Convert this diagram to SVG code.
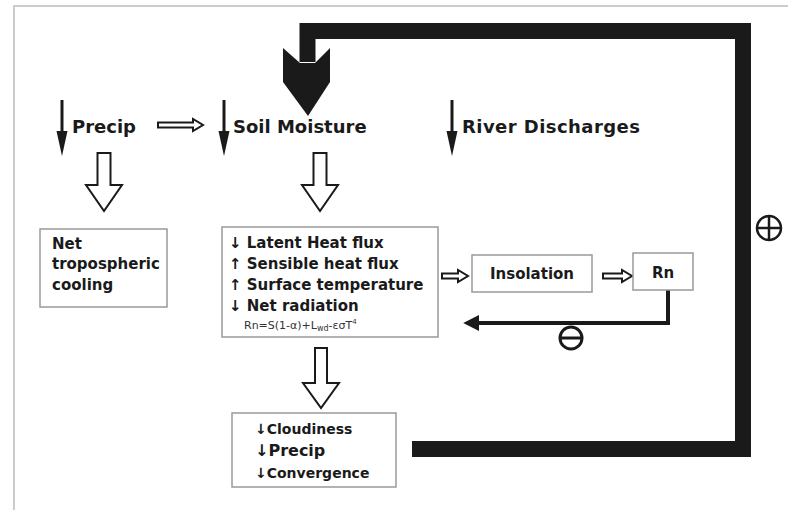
<svg xmlns="http://www.w3.org/2000/svg" width="788" height="510" viewBox="0 0 788 510">
<style>
.t{font-family:"DejaVu Sans",Verdana,sans-serif;font-weight:bold;fill:#1a1a1a}
.box{fill:#fff;stroke:#999;stroke-width:1.5}
.hollow{fill:#fff;stroke:#1a1a1a;stroke-width:2;stroke-linejoin:miter}
.blk{fill:#1a1a1a}
</style>
<defs>
<marker id="ah" viewBox="0 0 10 10" refX="2" refY="5" markerWidth="4" markerHeight="4" orient="auto">
<path d="M0,0 L10,5 L0,10 Z" fill="#1a1a1a"/>
</marker>
</defs>
<rect width="788" height="510" fill="#fff"/>
<g id="frame" stroke="#ccc" stroke-width="2" fill="none">
<path d="M14,510 V6 H788"/>
</g>
<g id="connectors">
<path d="M412,449 H743 V31 H307.5 V62" fill="none" stroke="#1a1a1a" stroke-width="16" stroke-linejoin="miter"/>
<polygon class="blk" points="283,48 300,63 315,63 330,48 330,82 308,116 283,82"/>
<g>
<rect class="blk" x="60.5" y="100" width="3" height="34"/>
<polygon class="blk" points="56.5,131 67.5,131 62,156"/>
<rect class="blk" x="222.5" y="100" width="3" height="34"/>
<polygon class="blk" points="218.5,131 229.5,131 224,156"/>
<rect class="blk" x="450.5" y="100" width="3" height="34"/>
<polygon class="blk" points="446.5,131 457.5,131 452,156"/>
</g>
<path class="hollow" d="M97.5,153 H110.5 V185 H122 L104,211 L86,185 H97.5 Z"/>
<path class="hollow" d="M313.5,153 H326.5 V185 H338 L320,211 L302,185 H313.5 Z"/>
<path class="hollow" d="M315,348 H327 V383 H339 L321,408 L303,383 H315 Z"/>
<path class="hollow" stroke-width="1.5" d="M158,122.5 H193 V119 L203,125 L193,131 V127.5 H158 Z"/>
<path class="hollow" stroke-width="1.5" d="M442,273.5 H458 V270 L468,276 L458,282 V278.5 H442 Z"/>
<path class="hollow" stroke-width="1.5" d="M603,273.5 H622 V270 L632,276 L622,282 V278.5 H603 Z"/>
<path d="M668,290 V323 H476" fill="none" stroke="#1a1a1a" stroke-width="4" marker-end="url(#ah)"/>
</g>
<g id="sign-minus" fill="none" stroke="#1a1a1a" stroke-width="3">
<circle cx="571" cy="338" r="11"/>
<line x1="561" y1="338" x2="581" y2="338"/>
</g>
<g id="sign-plus" fill="none" stroke="#1a1a1a" stroke-width="2.5">
<circle cx="769" cy="228" r="12"/>
<line x1="757" y1="228" x2="781" y2="228"/>
<line x1="769" y1="216" x2="769" y2="240"/>
</g>
<g id="precip"><text class="t" x="72" y="133" font-size="18">Precip</text></g>
<g id="soil-moisture"><text class="t" x="233" y="133" font-size="18">Soil Moisture</text></g>
<g id="river-discharges"><text class="t" x="462" y="133" font-size="18" textLength="178">River Discharges</text></g>
<g id="net-cooling">
<rect class="box" x="40" y="229" width="127" height="78"/>
<text class="t" font-size="15"><tspan x="52" y="249">Net</tspan><tspan x="52" y="269">tropospheric</tspan><tspan x="52" y="290">cooling</tspan></text>
</g>
<g id="surface-fluxes">
<rect class="box" x="222" y="227" width="216" height="110"/>
<text class="t" font-size="15">
<tspan x="229" y="248">↓ Latent Heat flux</tspan>
<tspan x="229" y="269">↑ Sensible heat flux</tspan>
<tspan x="229" y="290">↑ Surface temperature</tspan>
<tspan x="229" y="311">↓ Net radiation</tspan>
</text>
<text x="244" y="329" font-family="DejaVu Sans,sans-serif" font-size="11" fill="#333">Rn=S(1-α)+L<tspan font-size="8" dy="2">wd</tspan><tspan dy="-2">-εσT</tspan><tspan font-size="7" dy="-5">4</tspan></text>
</g>
<g id="insolation">
<rect class="box" x="472" y="255" width="120" height="37"/>
<text class="t" x="532" y="279" font-size="15" text-anchor="middle">Insolation</text>
</g>
<g id="rn">
<rect class="box" x="633" y="253" width="60" height="37"/>
<text class="t" x="663" y="278" font-size="15" text-anchor="middle">Rn</text>
</g>
<g id="cloudiness">
<rect class="box" x="232" y="413" width="164" height="74"/>
<text class="t" font-size="14">
<tspan x="255" y="434">↓Cloudiness</tspan>
<tspan x="255" y="456" font-size="16">↓Precip</tspan>
<tspan x="255" y="478">↓Convergence</tspan>
</text>
</g>
</svg>
